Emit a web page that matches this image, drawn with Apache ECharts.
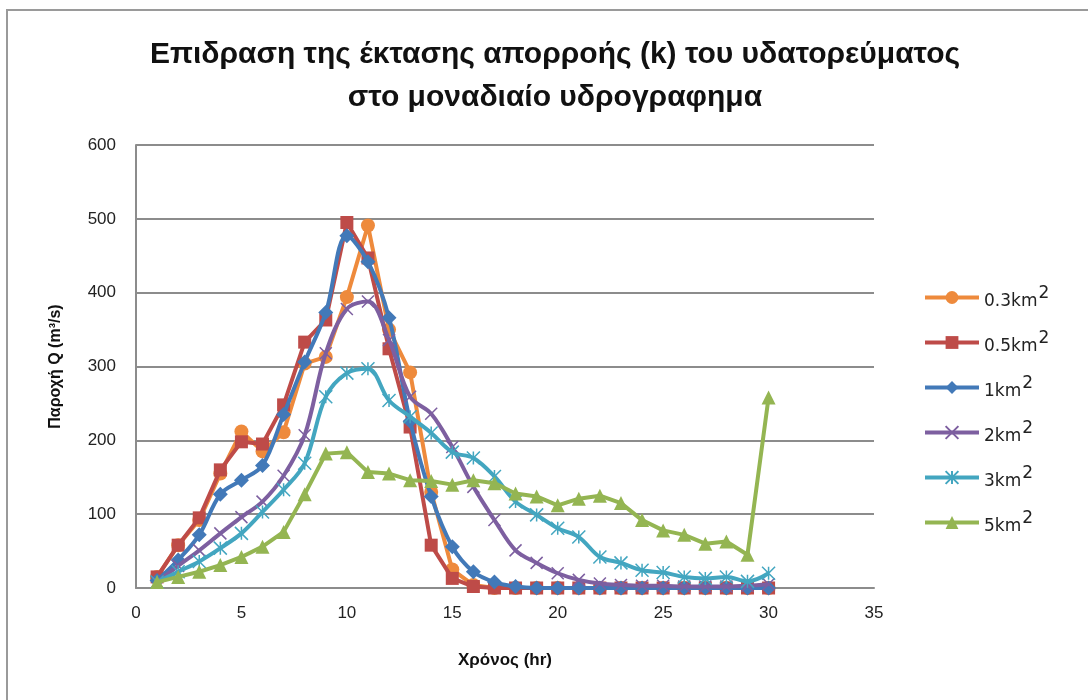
<!DOCTYPE html>
<html>
<head>
<meta charset="utf-8">
<script src="https://cdn.jsdelivr.net/npm/echarts@6/dist/echarts.min.js"></script>
<style>
  html, body { margin: 0; padding: 0; background: #fff; }
  #chart { width: 1088px; height: 700px; }
</style>
</head>
<body>
<div id="chart"></div>
<script>
// Time axis (hours) and discharge series (m3/s) for each catchment area
const hours = [1,2,3,4,5,6,7,8,9,10,11,12,13,14,15,16,17,18,19,20,21,22,23,24,25,26,27,28,29,30];
const areaNames = ['0.3km', '0.5km', '1km', '2km', '3km', '5km'];

const q03 = [15,58,92,155,212,185,211,304,313,394,491,350,292,130,25,4,0,0,0,0,0,0,0,0,0,0,0,0,0,0];
const q05 = [15,58,95,160,198,195,248,333,363,495,447,324,218,58,13,2,0,0,0,0,0,0,0,0,0,0,0,0,0,0];
const q1  = [10,38,72,127,146,166,235,306,373,477,442,366,226,124,56,22,8,2,0,0,0,0,0,0,0,0,0,0,0,0];
const q2  = [8,30,51,74,96,117,152,207,318,378,388,336,259,236,191,137,92,51,34,20,11,6,4,3,3,2,2,2,3,5];
const q3  = [8,22,36,54,74,103,133,169,259,291,297,254,232,210,184,176,151,117,99,81,69,42,34,24,21,15,13,15,9,20];
const q5  = [8,15,22,31,42,56,76,127,182,184,157,155,146,145,140,146,142,128,124,112,121,125,115,92,78,72,60,63,45,258];

const xTicks = { min: 0, max: 35, interval: 5 };
const yTicks = { min: 0, max: 600, interval: 100 };

const colors = ['#EE8A3C', '#BE4B48', '#4279B8', '#7D5FA0', '#43A6C0', '#94B552'];

const pair = (arr) => hours.map((h, i) => [h, arr[i]]);

const xMark = 'path://M0,0L10,10M10,0L0,10';
const starMark = 'path://M5,0L5,10M0,0L10,10M10,0L0,10';

function lineSeries(idx, values, symbol, size, smooth, strokeSymbol) {
  const s = {
    name: areaNames[idx],
    type: 'line',
    data: pair(values),
    smooth: smooth ? 0.35 : false,
    symbol: symbol,
    symbolSize: size,
    showAllSymbol: true,
    lineStyle: { color: colors[idx], width: 4 },
    itemStyle: { color: colors[idx] },
    z: 2 + idx
  };
  if (strokeSymbol) {
    s.itemStyle = { color: 'rgba(0,0,0,0)', borderColor: colors[idx], borderWidth: 1.5 };
  }
  return s;
}

const chart = echarts.init(document.getElementById('chart'), null, { renderer: 'canvas' });

chart.setOption({
  animation: false,
  backgroundColor: '#fff',
  color: colors,
  title: {
    text: 'Επιδραση της έκτασης απορροής (k) του υδατορεύματος\nστο μοναδιαίο υδρογραφημα',
    left: 550,
    top: 28,
    textAlign: 'center',
    textStyle: {
      fontFamily: 'Liberation Sans, sans-serif',
      fontWeight: 'bold',
      fontSize: 30,
      lineHeight: 43,
      color: '#111'
    }
  },
  grid: { left: 136, right: 214, top: 145, bottom: 112, containLabel: false },
  legend: {
    orient: 'vertical',
    left: 918,
    top: 280,
    itemWidth: 54,
    itemHeight: 16,
    itemGap: 20,
    data: areaNames,
    lineStyle: { width: 4 },
    formatter: (n) => `{b|${n}}{s|2}`,
    textStyle: {
      rich: {
        b: { fontFamily: 'DejaVu Sans, sans-serif', fontSize: 17, color: '#222', padding: [8, 0, 0, 0] },
        s: { fontFamily: 'DejaVu Sans, sans-serif', fontSize: 17, color: '#222', padding: [0, 0, 8, 1] }
      }
    }
  },
  xAxis: {
    type: 'value',
    min: xTicks.min,
    max: xTicks.max,
    interval: xTicks.interval,
    name: 'Χρόνος (hr)',
    nameLocation: 'middle',
    nameGap: 64,
    nameTextStyle: { fontFamily: 'Liberation Sans, sans-serif', fontWeight: 'bold', fontSize: 17, color: '#111' },
    axisLine: { lineStyle: { color: '#8c8c8c', width: 2 } },
    axisTick: { show: false },
    splitLine: { show: false },
    axisLabel: { fontFamily: 'Liberation Sans, sans-serif', fontSize: 17, color: '#222', margin: 17 }
  },
  yAxis: {
    type: 'value',
    min: yTicks.min,
    max: yTicks.max,
    interval: yTicks.interval,
    name: 'Παροχή Q (m³/s)',
    nameLocation: 'middle',
    nameRotate: 90,
    nameGap: 72,
    nameTextStyle: { fontFamily: 'Liberation Sans, sans-serif', fontWeight: 'bold', fontSize: 16, color: '#111' },
    axisLine: { show: true, lineStyle: { color: '#8c8c8c', width: 2 } },
    axisTick: { show: false },
    splitLine: { lineStyle: { color: '#8c8c8c', width: 2 } },
    axisLabel: { fontFamily: 'Liberation Sans, sans-serif', fontSize: 17, color: '#222', margin: 20 }
  },
  graphic: [{
    type: 'rect',
    shape: { x: 7, y: 10, width: 1200, height: 900 },
    style: { fill: 'none', stroke: '#9a9a9a', lineWidth: 2 },
    silent: true
  }],
  series: [
    lineSeries(0, q03, 'circle', 14, false, false),
    lineSeries(1, q05, 'rect', 13, false, false),
    lineSeries(2, q1, 'diamond', 15, true, false),
    lineSeries(3, q2, xMark, 12, true, true),
    lineSeries(4, q3, starMark, 13, true, true),
    lineSeries(5, q5, 'triangle', 14, false, false)
  ]
});
</script>
</body>
</html>
